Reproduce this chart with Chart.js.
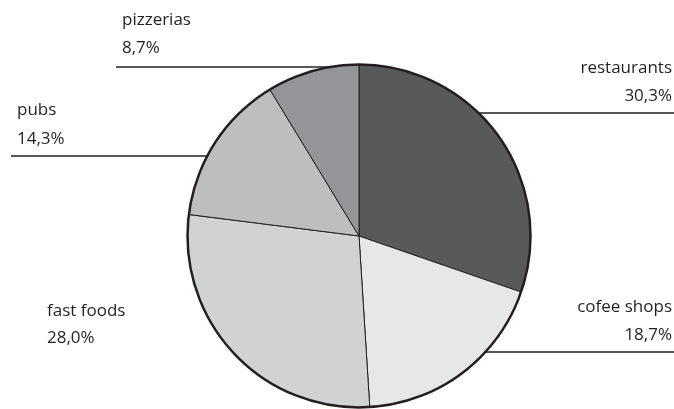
<!DOCTYPE html>
<html>
<head>
<meta charset="utf-8">
<script src="https://cdn.jsdelivr.net/npm/chart.js@4"></script>
<style>
  html, body { margin: 0; padding: 0; background: #ffffff; }
  #wrap { width: 674px; height: 409px; }
</style>
</head>
<body>
<div id="wrap"><canvas id="pieChart" width="674" height="409"></canvas></div>
<script>
const categories = ['restaurants', 'cofee shops', 'fast foods', 'pubs', 'pizzerias'];
const shares = [30.3, 18.7, 28.0, 14.3, 8.7];
const sliceColors = ['#58595b', '#e6e7e8', '#d1d2d4', '#bcbec0', '#939598'];

// where each label sits and where its leader line runs (null = no line)
const labelLayout = [
    { align: 'right', x: 672, y1: 73, y2: 101, lineY: 113, lineEnd: 674 },
    { align: 'right', x: 672, y1: 312, y2: 340, lineY: 352, lineEnd: 674 },
    { align: 'left', x: 47, y1: 316, y2: 343, lineY: null },
    { align: 'left', x: 17, y1: 115, y2: 144, lineY: 156, lineEnd: 11 },
    { align: 'left', x: 122, y1: 25, y2: 53, lineY: 67, lineEnd: 116 }
];

const ink = '#231f20';

const labelPlugin = {
    id: 'pieLabels',
    afterDatasetsDraw(chart) {
        const ctx = chart.ctx;
        const arc = chart.getDatasetMeta(0).data[0];
        const cx = arc.x, cy = arc.y, r = arc.outerRadius;

        // heavy outline round the pie
        ctx.save();
        ctx.beginPath();
        ctx.arc(cx, cy, r, 0, Math.PI * 2);
        ctx.lineWidth = 2.5;
        ctx.strokeStyle = ink;
        ctx.stroke();

        ctx.font = '17px "Open Sans"';
        ctx.fillStyle = ink;
        ctx.textBaseline = 'alphabetic';
        ctx.lineWidth = 1.5;
        labelLayout.forEach((l, i) => {
            ctx.textAlign = l.align;
            ctx.fillText(categories[i], l.x, l.y1);
            ctx.fillText(shares[i].toFixed(1).replace('.', ',') + '%', l.x, l.y2);
            if (l.lineY !== null) {
                const dy = l.lineY - cy;
                const dx = Math.sqrt(Math.max(r * r - dy * dy, 0));
                const edgeX = l.align === 'right' ? cx + dx : cx - dx;
                ctx.beginPath();
                ctx.moveTo(edgeX, l.lineY);
                ctx.lineTo(l.lineEnd, l.lineY);
                ctx.stroke();
            }
        });
        ctx.restore();
    }
};

const ctx = document.getElementById('pieChart').getContext('2d');
new Chart(ctx, {
    type: 'pie',
    data: {
        labels: categories,
        datasets: [{
            data: shares,
            backgroundColor: sliceColors,
            borderColor: ink,
            borderWidth: 1,
            hoverOffset: 0
        }]
    },
    options: {
        responsive: false,
        animation: false,
        events: [],
        layout: {
            padding: { left: 187, right: 143, top: 64, bottom: 1 }
        },
        plugins: {
            legend: { display: false },
            tooltip: { enabled: false }
        }
    },
    plugins: [labelPlugin]
});
</script>
</body>
</html>
